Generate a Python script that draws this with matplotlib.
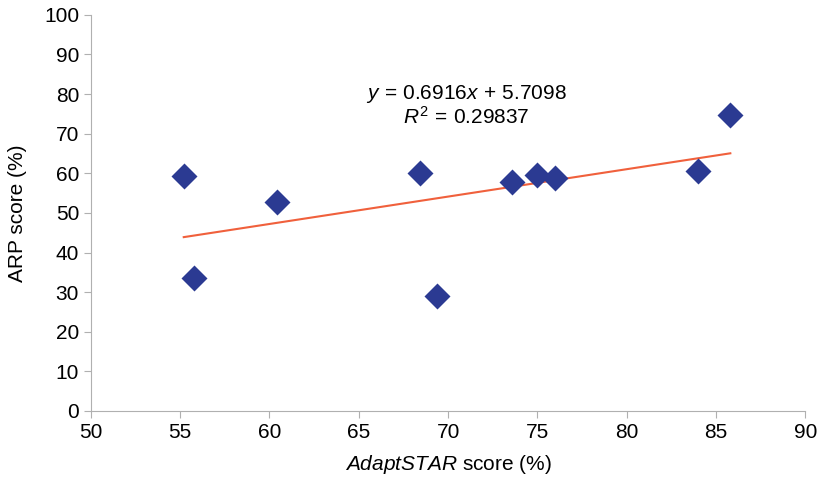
import matplotlib.pyplot as plt
import numpy as np

plt.rcParams['font.family'] = ['Liberation Sans', 'DejaVu Sans']
plt.rcParams['mathtext.fontset'] = 'custom'
plt.rcParams['mathtext.rm'] = 'Liberation Sans'
plt.rcParams['mathtext.it'] = 'Liberation Sans:italic'

# AdaptSTAR vs ARP scores
adaptstar = [55.2, 55.8, 60.4, 68.4, 69.4, 73.6, 75.0, 76.0, 84.0, 85.8]
arp = [59.4, 33.5, 52.7, 60.0, 28.9, 57.9, 59.6, 58.8, 60.7, 74.6]

slope = 0.6916
intercept = 5.7098
r2 = 0.29837

fig = plt.figure(figsize=(8.26, 4.79), dpi=100)
ax = fig.add_axes([0.110, 0.142, 0.865, 0.827])

# trend line over the data range
xs = np.array([min(adaptstar), max(adaptstar)])
ax.plot(xs, slope * xs + intercept, color='#F0603C', lw=1.5, zorder=2)
ax.plot(adaptstar, arp, 'D', color='#2B3A92', ms=13.5, mec='none', zorder=3)

ax.text(71.0, 80.1, r'$y\,=\,$0.6916$x\,+\,$5.7098', ha='center', va='center', fontsize=15)
ax.text(71.0, 74.3, r'$R^2\,=\,$0.29837', ha='center', va='center', fontsize=15)

ax.set_xlim(50, 90)
ax.set_ylim(0, 100)
ax.set_xticks(np.arange(50, 91, 5))
ax.set_yticks(np.arange(0, 101, 10))
for s in ['top', 'right']:
    ax.spines[s].set_visible(False)
for s in ['left', 'bottom']:
    ax.spines[s].set_color('#B0B0B0')
ax.tick_params(colors='#B0B0B0', labelcolor='black', labelsize=15, length=5)

ax.set_xlabel(r'$\it{AdaptSTAR}$ score (%)', fontsize=15, labelpad=8)
ax.set_ylabel('ARP score (%)', fontsize=15, labelpad=12)

plt.savefig('out.png', dpi=100)
